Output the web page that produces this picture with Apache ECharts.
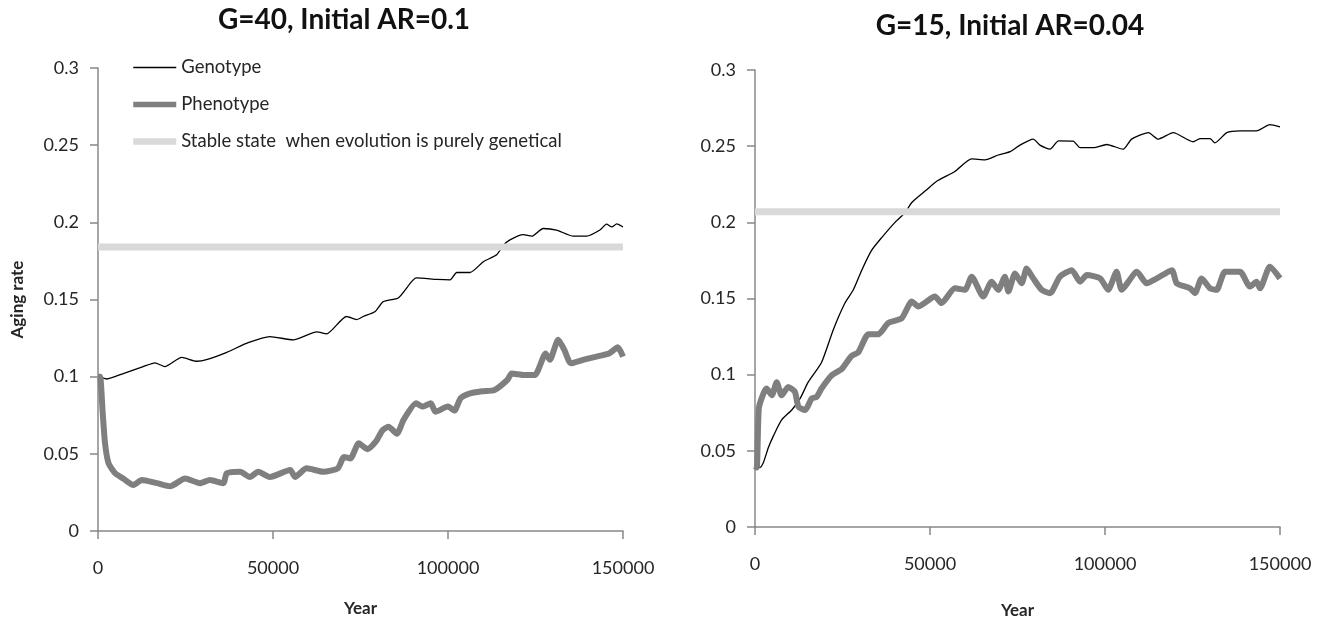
<!DOCTYPE html>
<html>
<head>
<meta charset="utf-8">
<script src="https://cdn.jsdelivr.net/npm/echarts@6/dist/echarts.min.js"></script>
<style>
html,body{margin:0;padding:0;background:#fff;}
#chart{width:1324px;height:624px;}
</style>
</head>
<body>
<div id="chart"></div>
<script>
// ---- Data ----
var titles = ['G=40, Initial AR=0.1', 'G=15, Initial AR=0.04'];
var seriesNames = ['Genotype', 'Phenotype', 'Stable state  when evolution is purely genetical'];
var xTicks = [0, 50000, 100000, 150000];
var yTicks = [0, 0.05, 0.1, 0.15, 0.2, 0.25, 0.3];

// Left panel: G=40
var g40GenoYear = [0, 570, 2500, 7200, 12900, 16300, 19100, 23900, 28200, 31000, 36800, 42900, 49100, 55800, 62500, 65300, 71000, 73900, 75800, 79100, 81500, 85800, 89600, 91000, 96800, 100600, 102500, 106300, 110100, 113900, 115800, 117700, 121500, 123900, 127200, 131000, 135800, 139600, 143400, 145300, 146800, 148200, 150000];
var g40GenoVal = [0.100, 0.0998, 0.0985, 0.102, 0.1065, 0.109, 0.1065, 0.1125, 0.110, 0.111, 0.1158, 0.122, 0.126, 0.1238, 0.129, 0.1277, 0.139, 0.137, 0.139, 0.142, 0.1486, 0.151, 0.1616, 0.164, 0.163, 0.1627, 0.1675, 0.1675, 0.1745, 0.179, 0.185, 0.1886, 0.192, 0.191, 0.196, 0.195, 0.191, 0.191, 0.195, 0.1988, 0.197, 0.199, 0.197];
var g40PhenoYear = [0, 600, 1300, 2000, 3000, 4900, 7200, 10100, 12500, 16800, 20600, 24900, 29100, 32000, 35800, 36800, 40600, 43400, 45800, 49100, 54900, 56300, 59600, 64400, 68500, 70300, 72100, 74500, 77000, 79400, 81200, 83000, 85400, 87300, 90900, 92700, 95100, 96400, 100000, 101800, 103600, 106100, 109700, 113300, 117000, 118200, 121800, 124800, 127900, 129100, 131500, 133300, 135100, 138800, 142400, 146000, 148500, 150000];
var g40PhenoVal = [0.100, 0.100, 0.078, 0.057, 0.044, 0.0374, 0.034, 0.0298, 0.033, 0.031, 0.029, 0.034, 0.031, 0.033, 0.031, 0.0374, 0.0384, 0.035, 0.0384, 0.035, 0.0395, 0.035, 0.0406, 0.0384, 0.0406, 0.048, 0.047, 0.0568, 0.053, 0.058, 0.065, 0.0676, 0.063, 0.072, 0.0827, 0.0806, 0.0827, 0.0773, 0.0806, 0.078, 0.086, 0.089, 0.0905, 0.0914, 0.098, 0.102, 0.101, 0.101, 0.115, 0.111, 0.124, 0.117, 0.1087, 0.111, 0.113, 0.115, 0.119, 0.113];
var g40StableYear = [0, 150000];
var g40StableVal = [0.184, 0.184];

// Right panel: G=15
var g15GenoYear = [0, 500, 1400, 2400, 3800, 5200, 7600, 10500, 12900, 15200, 19000, 22400, 25700, 28100, 30500, 33300, 36200, 40000, 42900, 44800, 48600, 51900, 57100, 61900, 65700, 69500, 72900, 75700, 79500, 81400, 84300, 86700, 90900, 92900, 96700, 100500, 105200, 107600, 112400, 115200, 119500, 125200, 127100, 130000, 131400, 134800, 138600, 143300, 147100, 150000];
var g15GenoVal = [0.040, 0.040, 0.039, 0.0423, 0.052, 0.0595, 0.0703, 0.0768, 0.0844, 0.0951, 0.108, 0.1297, 0.147, 0.1557, 0.1686, 0.1816, 0.190, 0.200, 0.2064, 0.213, 0.2205, 0.227, 0.2334, 0.2416, 0.241, 0.2442, 0.2464, 0.2507, 0.2546, 0.2507, 0.248, 0.2535, 0.2533, 0.249, 0.249, 0.2511, 0.248, 0.2546, 0.2589, 0.2546, 0.2589, 0.2529, 0.255, 0.255, 0.2522, 0.2589, 0.260, 0.260, 0.2641, 0.2626];
var g15PhenoYear = [0, 500, 1100, 2400, 3300, 4800, 6200, 7600, 9500, 11400, 12400, 14300, 16200, 17600, 19000, 21900, 24800, 27600, 29500, 32400, 35200, 38100, 41900, 44800, 46700, 51400, 53300, 57100, 60000, 61900, 65200, 67600, 69500, 71400, 72400, 74300, 76200, 77600, 79500, 81900, 84300, 87100, 90500, 92900, 94800, 98600, 100900, 103300, 104800, 109100, 111900, 114800, 119100, 120500, 124300, 125700, 127600, 130000, 131900, 134300, 138600, 141400, 143300, 144300, 147100, 150000];
var g15PhenoVal = [0.040, 0.039, 0.078, 0.0876, 0.0909, 0.0865, 0.0951, 0.0865, 0.0919, 0.0887, 0.079, 0.0768, 0.0844, 0.0854, 0.0909, 0.0995, 0.1038, 0.1124, 0.1146, 0.1265, 0.1265, 0.134, 0.137, 0.148, 0.1448, 0.1513, 0.147, 0.1567, 0.1557, 0.1643, 0.1513, 0.161, 0.1557, 0.1643, 0.1546, 0.1664, 0.160, 0.1697, 0.1632, 0.1557, 0.1535, 0.1643, 0.1686, 0.161, 0.1654, 0.1632, 0.1557, 0.1675, 0.1557, 0.1675, 0.160, 0.1632, 0.1686, 0.160, 0.1567, 0.1535, 0.1632, 0.1567, 0.1557, 0.1675, 0.1675, 0.1578, 0.161, 0.1567, 0.1708, 0.1632];
var g15StableYear = [0, 150000];
var g15StableVal = [0.207, 0.207];

function zip(xs, ys) { return xs.map(function (x, i) { return [x, ys[i]]; }); }

var FONT = 'Lato';
var TXT = '#262626';
var AXIS = '#888888';
var GENO = '#000000', PHENO = '#7f7f7f', STABLE = '#d9d9d9';

function xAxisCfg(idx, gap) {
  return {
    type: 'value', gridIndex: idx, min: xTicks[0], max: xTicks[xTicks.length - 1], interval: xTicks[1] - xTicks[0],
    name: 'Year', nameLocation: 'middle', nameGap: gap,
    nameTextStyle: { fontFamily: FONT, fontWeight: 'bold', fontSize: 17, color: TXT },
    axisLine: { show: true, lineStyle: { color: AXIS, width: 1.5 } },
    axisTick: { show: true, length: 8, lineStyle: { color: AXIS, width: 1.5 } },
    axisLabel: { fontFamily: FONT, fontSize: 18, color: TXT, margin: 28, formatter: function (v) { return String(v); } },
    splitLine: { show: false }
  };
}
function yAxisCfg(idx, withName) {
  return {
    type: 'value', gridIndex: idx, min: yTicks[0], max: yTicks[yTicks.length - 1], interval: yTicks[1] - yTicks[0],
    name: withName ? 'Aging rate' : '', nameLocation: 'middle', nameGap: 72,
    nameTextStyle: { fontFamily: FONT, fontWeight: 'bold', fontSize: 17, color: TXT },
    axisLine: { show: true, lineStyle: { color: AXIS, width: 1.5 } },
    axisTick: { show: true, length: 8, lineStyle: { color: AXIS, width: 1.5 } },
    axisLabel: { fontFamily: FONT, fontSize: 18, color: TXT, margin: 19 },
    splitLine: { show: false }
  };
}
function lineSeries(name, idx, data, color, width) {
  return {
    name: name, type: 'line', xAxisIndex: idx, yAxisIndex: idx, data: data,
    showSymbol: false, symbol: 'none', smooth: 0.2,
    lineStyle: { color: color, width: width }, itemStyle: { color: color },
    emphasis: { disabled: true }, silent: true, animation: false
  };
}

var chart = echarts.init(document.getElementById('chart'));
chart.setOption({
  backgroundColor: '#ffffff',
  animation: false,
  title: [
    { text: titles[0], left: 339, top: 1, textAlign: 'center', textStyle: { fontFamily: FONT, fontWeight: 'bold', fontSize: 28, color: '#111' } },
    { text: titles[1], left: 1005, top: 7, textAlign: 'center', textStyle: { fontFamily: FONT, fontWeight: 'bold', fontSize: 28, color: '#111' } }
  ],
  legend: {
    orient: 'vertical', left: 125, top: 53, itemWidth: 43, itemHeight: 12, itemGap: 18,
    itemStyle: { opacity: 0 },
    textStyle: { fontFamily: FONT, fontSize: 18.5, color: TXT },
    data: [
      { name: seriesNames[0], lineStyle: { color: GENO, width: 1.3 } },
      { name: seriesNames[1], lineStyle: { color: PHENO, width: 5.5 } },
      { name: seriesNames[2], lineStyle: { color: STABLE, width: 6.5 } }
    ],
    selectedMode: false
  },
  grid: [
    { left: 98, top: 68, width: 525, height: 463 },
    { left: 755, top: 70, width: 525, height: 463 }
  ],
  xAxis: [xAxisCfg(0, 69), xAxisCfg(1, 75)],
  yAxis: [yAxisCfg(0, true), yAxisCfg(1, false)],
  series: [
    lineSeries(seriesNames[0], 0, zip(g40GenoYear, g40GenoVal), GENO, 1.3),
    lineSeries(seriesNames[1], 0, zip(g40PhenoYear, g40PhenoVal), PHENO, 6),
    lineSeries(seriesNames[2], 0, zip(g40StableYear, g40StableVal), STABLE, 7),
    lineSeries(seriesNames[0], 1, zip(g15GenoYear, g15GenoVal), GENO, 1.3),
    lineSeries(seriesNames[1], 1, zip(g15PhenoYear, g15PhenoVal), PHENO, 6),
    lineSeries(seriesNames[2], 1, zip(g15StableYear, g15StableVal), STABLE, 7)
  ]
});
</script>
</body>
</html>
